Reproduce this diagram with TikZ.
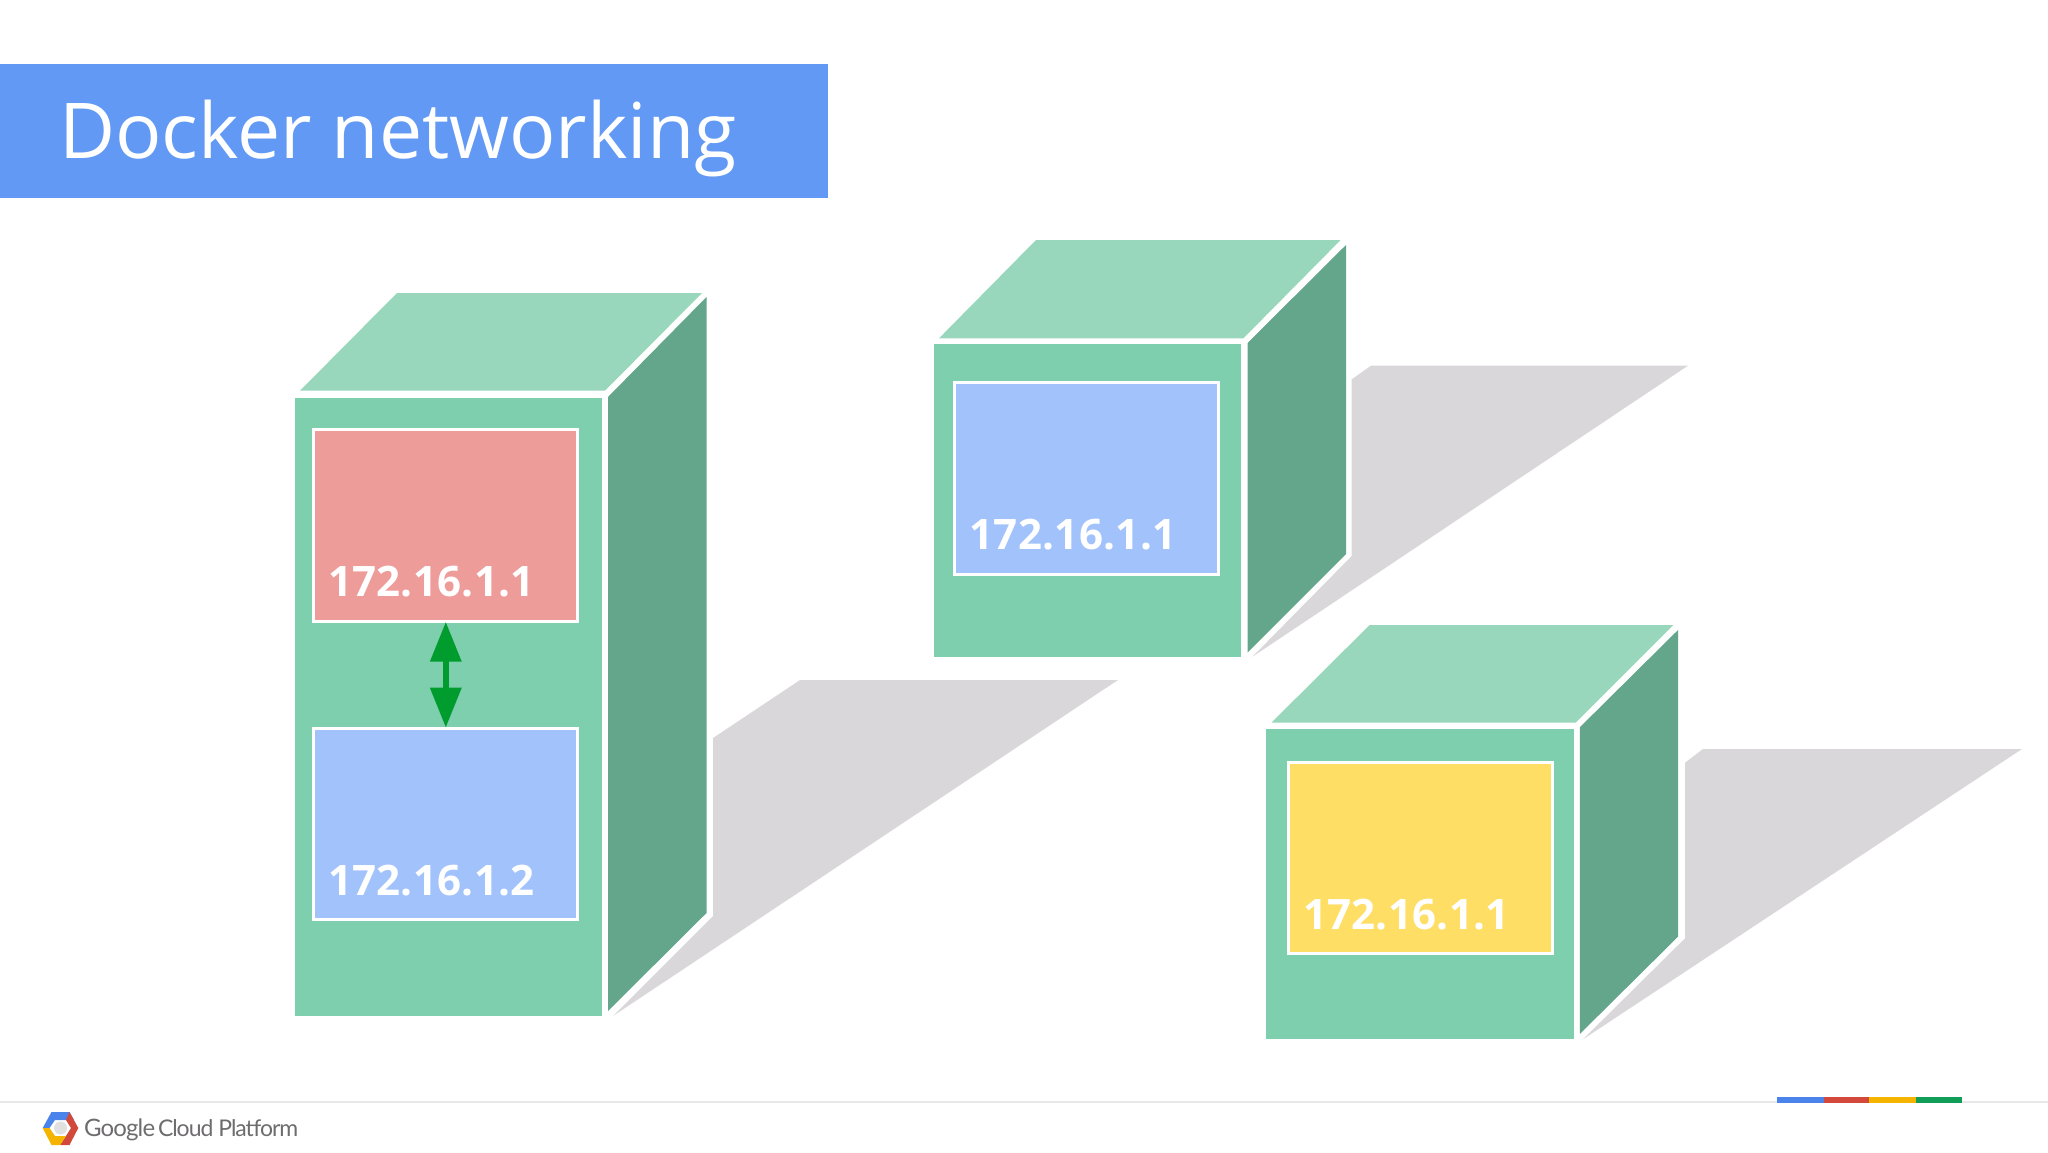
\documentclass[tikz,border=0pt]{standalone}
\usepackage{fontspec}
\usetikzlibrary{arrows.meta}
\setmainfont{Open Sans}
\newfontfamily\titlefont{Open Sans}
\newfontfamily\ipfont{Open Sans}[LetterSpace=0.8]
\newfontfamily\googlefont{Lato}[LetterSpace=-3.5]
\newfontfamily\brandfont{Lato}[LetterSpace=-4.5]
\definecolor{front}{HTML}{7ECFAD}
\definecolor{topface}{HTML}{98D7BB}
\definecolor{sideface}{HTML}{63A68B}
\definecolor{shadowc}{HTML}{D9D7DA}
\definecolor{bannerc}{HTML}{6199F4}
\definecolor{redc}{HTML}{EE9C9A}
\definecolor{bluec}{HTML}{A2C2FC}
\definecolor{yellowc}{HTML}{FFDE66}
\definecolor{arrowc}{HTML}{009D2E}
\definecolor{rulec}{HTML}{E8E8E8}
\definecolor{gblue}{HTML}{4A84EA}
\definecolor{gred}{HTML}{D2493C}
\definecolor{gyellow}{HTML}{F4B400}
\definecolor{ggreen}{HTML}{0F9D58}
\definecolor{brandc}{HTML}{6E6C6E}
\tikzset{
  shadowface/.style={fill=shadowc,draw=none},
  frontface/.style={fill=front,draw=none},
  topsurface/.style={fill=topface,draw=none},
  sidesurface/.style={fill=sideface,draw=none},
  container/.style={draw=white,line width=3pt,inner sep=0pt,outer sep=0pt,anchor=north west},
  iplabel/.style={text=white,inner sep=0pt,outer sep=0pt,anchor=base west,font=\ipfont\bfseries\fontsize{42}{50}\selectfont},
  brand/.style={text=brandc,inner sep=0pt,outer sep=0pt,anchor=base west}
}
\begin{document}
\begin{tikzpicture}[x=1pt,y=-1pt]
\useasboundingbox (0,0) rectangle (2048,1153);
% banner
\fill[bannerc] (0,64) rectangle (828,198);
\node[text=white,inner sep=0pt,outer sep=0pt,anchor=base west,font=\titlefont\fontsize{77}{90}\selectfont] (title) at (59,159) {Docker networking};
% box 1
\fill[shadowface] (713,738) -- (800,680) -- (1118,680) -- (613,1016) -- (713,916) -- cycle;
\fill[frontface] (294.7,397.5) rectangle (602,1015.5);
\fill[topsurface] (300,390.7) -- (397,293) -- (702,293) -- (605,390.7) -- cycle;
\fill[sidesurface] (608,397) -- (706.5,297) -- (706.5,913) -- (608,1011) -- cycle;
\node[container,fill=redc,minimum width=264pt,minimum height=191.7pt] (red) at (313.8,429.5) {};
\node[container,fill=bluec,minimum width=264pt,minimum height=191.3pt] (blueA) at (313.8,728.2) {};
\node[iplabel] (ipA) at (328,596.7) {172.16.1.1};
\node[iplabel] (ipB) at (328,895) {172.16.1.2};
\draw[arrowc,line width=6.5pt,shorten <=0.5pt,shorten >=0.5pt,{Triangle[width=30pt,length=40pt]}-{Triangle[width=30pt,length=40pt]}] (red.south) -- (blueA.north);
% box 2
\fill[shadowface] (1351.7,379.3) -- (1371,365.7) -- (1688,365.7) -- (1252.5,656.7) -- (1351.7,556) -- cycle;
\fill[frontface] (933.6,344.3) rectangle (1241.4,656.7);
\fill[topsurface] (939,338.3) -- (1036,240) -- (1340.6,240) -- (1243.4,338.3) -- cycle;
\fill[sidesurface] (1247.5,343) -- (1346,245) -- (1346,554) -- (1247.5,652.7) -- cycle;
\node[container,fill=bluec,minimum width=264pt,minimum height=192pt] (blueB) at (954.2,382.2) {};
\node[iplabel] (ipC) at (969.5,549.3) {172.16.1.1};
% box 3
\fill[shadowface] (1685,762.7) -- (1703,749) -- (2022,749) -- (1583,1039.3) -- (1685,938.3) -- cycle;
\fill[frontface] (1265.8,729) rectangle (1574,1039.3);
\fill[topsurface] (1271.4,722.7) -- (1369.6,625) -- (1673.4,625) -- (1575.7,722.7) -- cycle;
\fill[sidesurface] (1579.8,727.3) -- (1678,630) -- (1678,936.7) -- (1579.8,1034) -- cycle;
\node[container,fill=yellowc,minimum width=264pt,minimum height=191.6pt] (yellowbox) at (1288.5,762.2) {};
\node[iplabel] (ipD) at (1303,929.3) {172.16.1.1};
% footer rule and strip
\fill[rulec] (0,1101) rectangle (2048,1102.6);
\fill[gblue] (1777,1096.7) rectangle (1824,1102.7);
\fill[gred] (1824,1096.7) rectangle (1869.3,1102.7);
\fill[gyellow] (1869.3,1096.7) rectangle (1915.7,1102.7);
\fill[ggreen] (1915.7,1096.7) rectangle (1962,1102.7);
% logo
\fill[gblue] (42.7,1128) -- (51.5,1112) -- (69.5,1112) -- (74,1120) -- (66,1120) -- (55,1120) -- (49.5,1128) -- cycle;
\fill[gred] (69.5,1112) -- (78.3,1128) -- (69.5,1145) -- (60,1145) -- (66,1136) -- (71,1128) -- (66,1120) -- cycle;
\fill[gyellow] (42.7,1128) -- (49.5,1128) -- (55,1136) -- (66,1136) -- (60,1145) -- (51.5,1145) -- cycle;
\fill[white!88!black] (60.5,1128) circle (6.5pt);
\node[brand,font=\googlefont\fontsize{24}{30}\selectfont] (google) at (84,1136) {Google};
\node[brand,font=\brandfont\fontsize{23}{30}\selectfont] (cloud) at (158,1136) {Cloud Platform};
\end{tikzpicture}
\end{document}
